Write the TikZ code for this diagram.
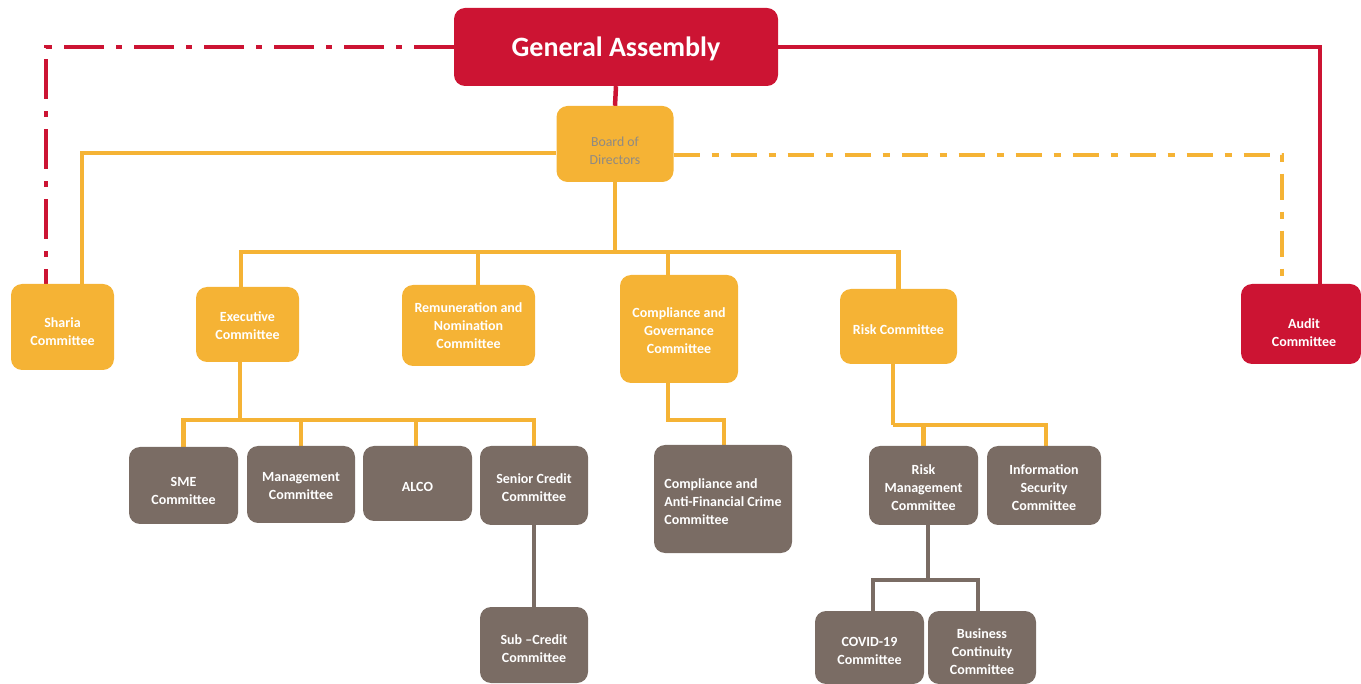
\documentclass[tikz,border=0pt]{standalone}
\usepackage{fontspec}
\setmainfont{Carlito}
\usetikzlibrary{backgrounds}
\definecolor{gared}{HTML}{CC1433}
\definecolor{gaorange}{HTML}{F5B335}
\definecolor{gagray}{HTML}{7A6C64}
\definecolor{txtgray}{HTML}{8E8A84}
\tikzset{
  box/.style={rounded corners=11pt, inner sep=0pt},
  redbox/.style={box, fill=gared},
  orbox/.style={box, fill=gaorange},
  grbox/.style={box, fill=gagray},
  lbl/.style={align=center, text=white, inner sep=0pt,
    font=\fontsize{14}{18}\selectfont\bfseries},
  redln/.style={draw=gared, line width=4.5pt},
  orln/.style={draw=gaorange, line width=4.5pt},
  grln/.style={draw=gagray, line width=4.5pt},
  reddd/.style={redln, dash pattern=on 40pt off 12pt on 6pt off 12pt},
  ordd/.style={orln, dash pattern=on 26pt off 12pt on 7pt off 12pt},
}
\begin{document}
\begin{tikzpicture}[x=1pt,y=-1pt]
\useasboundingbox (0,0) rectangle (1361,684);
% nodes
\node[redbox, minimum width=324pt, minimum height=78pt,
  label={[lbl, yshift=-2pt, font=\fontsize{28}{30}\selectfont\bfseries]center:General Assembly}] (GA) at (616,47) {};
\node[orbox, minimum width=117pt, minimum height=76pt,
  label={[lbl, yshift=-7pt, text=txtgray, font=\fontsize{13.8}{18}\selectfont]center:{Board of\\Directors}}] (BoD) at (615,144) {};
\node[orbox, minimum width=103pt, minimum height=86pt,
  label={[lbl, yshift=-5pt]center:{Sharia\\Committee}}] (Sharia) at (62.5,327) {};
\node[orbox, minimum width=103pt, minimum height=75pt,
  label={[lbl, yshift=-1.5pt]center:{Executive\\Committee}}] (Exec) at (247.5,324.5) {};
\node[orbox, minimum width=133pt, minimum height=81pt,
  label={[lbl]center:{Remuneration and\\Nomination\\Committee}}] (Remun) at (468.5,325.5) {};
\node[orbox, minimum width=118pt, minimum height=108pt,
  label={[lbl, yshift=-2pt]center:{Compliance and\\Governance\\Committee}}] (CompGov) at (679,329) {};
\node[orbox, minimum width=117pt, minimum height=75pt,
  label={[lbl, yshift=-3.5pt]center:{Risk Committee}}] (Risk) at (898.5,326.5) {};
\node[redbox, minimum width=120pt, minimum height=80pt,
  label={[lbl, yshift=-9pt, xshift=3pt]center:{Audit\\Committee}}] (Audit) at (1301,324) {};
\node[grbox, minimum width=109pt, minimum height=77pt,
  label={[lbl, yshift=-5.5pt]center:{SME\\Committee}}] (SME) at (183.5,485.5) {};
\node[grbox, minimum width=108pt, minimum height=77pt,
  label={[lbl, yshift=-1.5pt]center:{Management\\Committee}}] (Mgmt) at (301,484.5) {};
\node[grbox, minimum width=109pt, minimum height=75pt,
  label={[lbl, yshift=-3.5pt]center:{ALCO}}] (ALCO) at (417.5,483.5) {};
\node[grbox, minimum width=108pt, minimum height=79pt,
  label={[lbl, yshift=-2.5pt]center:{Senior Credit\\Committee}}] (Senior) at (534,485.5) {};
\node[grbox, minimum width=108pt, minimum height=76pt,
  label={[lbl, yshift=-4pt]center:{Sub –Credit\\Committee}}] (Sub) at (534,645) {};
\node[grbox, minimum width=138pt, minimum height=108pt,
  label={[lbl, align=left, yshift=-2.5pt]center:{Compliance and\\Anti-Financial Crime\\Committee}}] (CAFC) at (723,499) {};
\node[grbox, minimum width=109pt, minimum height=79pt,
  label={[lbl, yshift=-2.5pt]center:{Risk\\Management\\Committee}}] (RiskMgmt) at (923.5,485.5) {};
\node[grbox, minimum width=114pt, minimum height=79pt,
  label={[lbl, yshift=-2.5pt]center:{Information\\Security\\Committee}}] (InfoSec) at (1044,485.5) {};
\node[grbox, minimum width=109pt, minimum height=73pt,
  label={[lbl, yshift=-3.5pt]center:{COVID-19\\Committee}}] (COVID) at (869.5,647.5) {};
\node[grbox, minimum width=108pt, minimum height=73pt,
  label={[lbl, yshift=-4pt]center:{Business\\Continuity\\Committee}}] (BCC) at (982,647.5) {};
% junction coordinates
\coordinate (j1) at (615,252);
\coordinate (j2) at (240,420);
\coordinate (j4) at (893,425);
\coordinate (j5) at (928,580);
% connectors
\begin{scope}[on background layer]
\draw[redln] (GA.south) -- (BoD.north);
\draw[redln] (GA.east) -| ([xshift=19pt]Audit.north);
\draw[reddd] (GA.west) -| ([xshift=-16.5pt]Sharia.north);
\draw[orln] ([yshift=-9pt]BoD.west) -| ([xshift=19.5pt]Sharia.north);
\draw[ordd] ([yshift=-11pt]BoD.east) -| ([xshift=-19pt]Audit.north);
\draw[orln] (BoD.south) -- (j1);
\draw[orln] ([xshift=-6.5pt]Exec.north) |- (j1) -| (Risk.north);
\draw[orln] ([xshift=9.5pt]Remun.north) |- (j1);
\draw[orln] ([xshift=-11pt]CompGov.north |- j1) -- ([xshift=-11pt]CompGov.north);
\draw[orln] ([xshift=-7.5pt]Exec.south) -- (j2);
\draw[orln] (SME.north) |- (j2) -| (Senior.north);
\draw[orln] (Mgmt.north) |- (j2);
\draw[orln] ([xshift=-1.5pt]ALCO.north) |- (j2);
\draw[orln] ([xshift=-11pt]CompGov.south) -- ++(0,37) -| ([xshift=1pt]CAFC.north);
\draw[orln] ([xshift=-5.5pt]Risk.south) -- (j4);
\draw[orln] (RiskMgmt.north) |- (j4);
\draw[orln] ([xshift=2pt]InfoSec.north) |- (j4);
\draw[grln] (Senior.south) -- (Sub.north);
\draw[grln] ([xshift=4.5pt]RiskMgmt.south) -- (j5);
\draw[grln] ([xshift=3.5pt]COVID.north) |- (j5) -| ([xshift=-4pt]BCC.north);
\end{scope}
\end{tikzpicture}
\end{document}
